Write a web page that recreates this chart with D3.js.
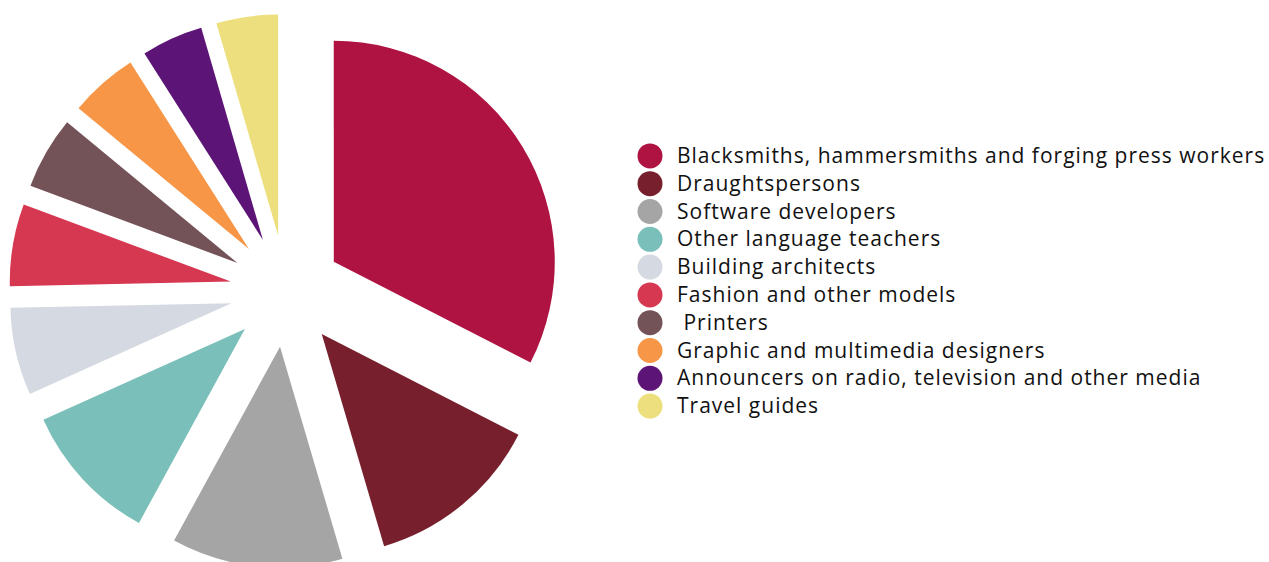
<!DOCTYPE html>
<html>
<head>
<meta charset="utf-8">
<script src="https://cdn.jsdelivr.net/npm/d3@7"></script>
<style>
  body { margin: 0; background: #fff; }
  svg text { font-family: "Open Sans", sans-serif; white-space: pre; }
</style>
</head>
<body>
<svg></svg>
<script>
// exploded pie with legend on the right

var categories = [
  "Blacksmiths, hammersmiths and forging press workers",
  "Draughtspersons",
  "Software developers",
  "Other language teachers",
  "Building architects",
  "Fashion and other models",
  " Printers",
  "Graphic and multimedia designers",
  "Announcers on radio, television and other media",
  "Travel guides"
];
var values = [32.5, 12.9, 12.5, 10.3, 6.4, 6.0, 5.3, 5.0, 4.5, 4.5];
var colors = ["#AF1342", "#771F2D", "#A5A5A5", "#7ABFB9", "#D5D9E1",
              "#D63751", "#745358", "#F69646", "#5C1476", "#EDDF7D"];

var svgWidth = 1269, svgHeight = 562;
var cx = 286, cy = 291, radius = 221, explode = 56;

var svg = d3.select("svg")
    .attr("width", svgWidth)
    .attr("height", svgHeight);

var pie = d3.pie().sort(null).value(function(d) { return d; });
var arc = d3.arc().innerRadius(0).outerRadius(radius);

var slices = svg.append("g")
    .attr("transform", "translate(" + cx + "," + cy + ")")
    .selectAll("path")
    .data(pie(values))
    .enter()
    .append("path")
    .attr("d", arc)
    .attr("fill", function(d, i) { return colors[i]; })
    .attr("transform", function(d) {
        var mid = (d.startAngle + d.endAngle) / 2;
        return "translate(" + [Math.sin(mid) * explode, -Math.cos(mid) * explode] + ")";
    });

// legend
var rowScale = d3.scaleBand()
    .domain(categories)
    .range([142, 420]);

var legend = svg.selectAll("g.legend")
    .data(categories)
    .enter()
    .append("g")
    .attr("class", "legend")
    .attr("transform", function(d) {
        return "translate(650," + (rowScale(d) + rowScale.bandwidth() / 2) + ")";
    });

legend.append("circle")
    .attr("r", 12.5)
    .attr("fill", function(d, i) { return colors[i]; });

legend.append("text")
    .attr("x", 27)
    .attr("y", 7)
    .attr("font-size", 21)
    .attr("letter-spacing", 1.0)
    .attr("fill", "#111")
    .text(function(d) { return d; });
</script>
</body>
</html>
